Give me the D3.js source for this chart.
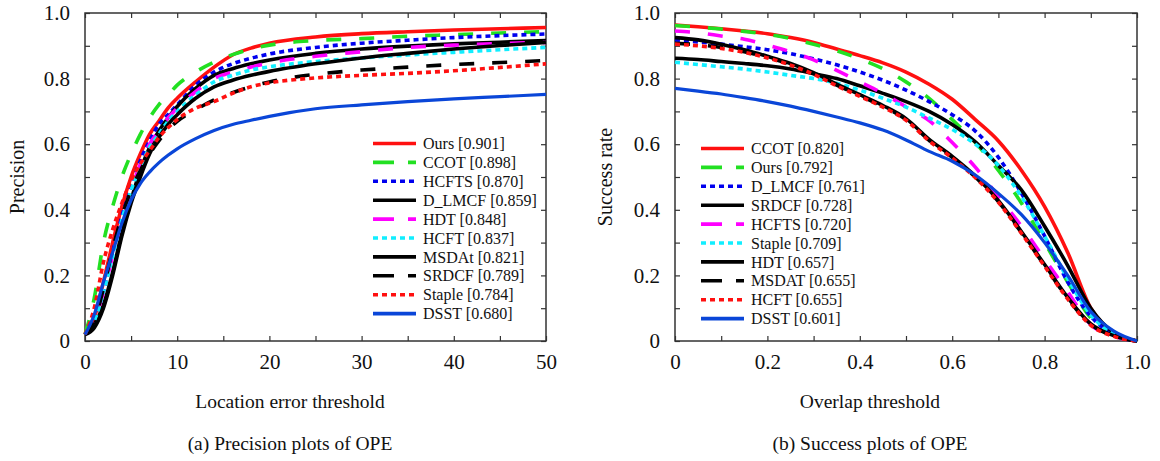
<!DOCTYPE html>
<html>
<head>
<meta charset="utf-8">
<script src="https://cdn.jsdelivr.net/npm/d3@7"></script>
<style>
  body { margin: 0; background: #fff; }
</style>
</head>
<body>
<svg id="chart" width="1160" height="461"></svg>
<script>
// ---- data ----
var precX = [0,1,2,3,4,5,6,7,8,9,10,12,14,16,18,20,25,30,35,40,45,50];
var precNames = ["Ours [0.901]","CCOT [0.898]","HCFTS [0.870]","D_LMCF [0.859]","HDT [0.848]",
                 "HCFT [0.837]","MSDAt [0.821]","SRDCF [0.789]","Staple [0.784]","DSST [0.680]"];
var precOurs   = [0.02,0.07,0.18,0.30,0.41,0.50,0.57,0.63,0.67,0.71,0.74,0.79,0.835,0.872,0.893,0.908,0.927,0.937,0.943,0.948,0.952,0.956];
var precCCOT   = [0.02,0.13,0.30,0.41,0.50,0.57,0.63,0.68,0.72,0.75,0.78,0.82,0.85,0.873,0.89,0.902,0.916,0.922,0.929,0.934,0.939,0.943];
var precHCFTS  = [0.02,0.06,0.15,0.27,0.38,0.47,0.55,0.61,0.66,0.69,0.72,0.78,0.82,0.845,0.862,0.875,0.895,0.908,0.917,0.925,0.931,0.936];
var precDLMCF  = [0.02,0.05,0.11,0.21,0.33,0.43,0.52,0.59,0.64,0.68,0.715,0.77,0.81,0.83,0.845,0.857,0.877,0.89,0.899,0.906,0.911,0.916];
var precHDT    = [0.02,0.06,0.15,0.26,0.37,0.46,0.54,0.60,0.64,0.68,0.71,0.76,0.80,0.82,0.835,0.848,0.868,0.882,0.895,0.902,0.907,0.91];
var precHCFT   = [0.02,0.06,0.15,0.26,0.37,0.46,0.53,0.59,0.63,0.67,0.70,0.75,0.79,0.81,0.826,0.836,0.852,0.863,0.872,0.88,0.888,0.895];
var precMSDAt  = [0.02,0.04,0.10,0.20,0.32,0.42,0.50,0.57,0.62,0.66,0.69,0.74,0.775,0.795,0.81,0.822,0.845,0.863,0.877,0.89,0.901,0.91];
var precSRDCF  = [0.02,0.06,0.16,0.28,0.38,0.46,0.52,0.57,0.61,0.645,0.67,0.705,0.735,0.757,0.775,0.79,0.813,0.826,0.835,0.843,0.849,0.855];
var precStaple = [0.02,0.10,0.24,0.34,0.42,0.49,0.54,0.58,0.62,0.65,0.675,0.71,0.73,0.755,0.775,0.787,0.802,0.81,0.816,0.824,0.834,0.845];
var precDSST   = [0.02,0.08,0.18,0.27,0.36,0.43,0.48,0.515,0.543,0.566,0.586,0.617,0.642,0.66,0.673,0.685,0.708,0.72,0.73,0.738,0.745,0.752];

var succX = [0,0.05,0.1,0.15,0.2,0.25,0.3,0.35,0.4,0.45,0.5,0.55,0.6,0.65,0.7,0.75,0.8,0.85,0.9,0.95,1];
var succNames = ["CCOT [0.820]","Ours [0.792]","D_LMCF [0.761]","SRDCF [0.728]","HCFTS [0.720]",
                 "Staple [0.709]","HDT [0.657]","MSDAT [0.655]","HCFT [0.655]","DSST [0.601]"];
var succCCOT   = [0.963,0.958,0.952,0.945,0.937,0.925,0.91,0.89,0.87,0.848,0.82,0.783,0.737,0.675,0.61,0.52,0.41,0.27,0.10,0.025,0];
var succOurs   = [0.962,0.957,0.951,0.944,0.935,0.922,0.905,0.885,0.86,0.83,0.79,0.74,0.675,0.605,0.52,0.42,0.30,0.18,0.07,0.02,0];
var succDLMCF  = [0.918,0.912,0.905,0.897,0.888,0.876,0.86,0.842,0.82,0.795,0.765,0.73,0.69,0.64,0.56,0.45,0.32,0.18,0.075,0.02,0];
var succSRDCF  = [0.862,0.858,0.852,0.846,0.839,0.829,0.815,0.80,0.778,0.755,0.73,0.70,0.66,0.607,0.535,0.46,0.35,0.23,0.10,0.025,0];
var succHCFTS  = [0.945,0.94,0.93,0.92,0.902,0.882,0.857,0.825,0.79,0.755,0.714,0.672,0.605,0.53,0.44,0.35,0.25,0.15,0.05,0.015,0];
var succStaple = [0.85,0.843,0.836,0.829,0.82,0.81,0.80,0.786,0.765,0.74,0.713,0.68,0.645,0.60,0.535,0.44,0.32,0.19,0.08,0.02,0];
var succHDT    = [0.925,0.918,0.905,0.888,0.868,0.846,0.818,0.783,0.751,0.718,0.678,0.615,0.563,0.503,0.428,0.333,0.233,0.133,0.052,0.016,0];
var succMSDAT  = [0.908,0.903,0.895,0.882,0.865,0.843,0.815,0.78,0.748,0.715,0.675,0.612,0.56,0.50,0.425,0.33,0.23,0.13,0.05,0.015,0];
var succHCFT   = [0.905,0.9,0.892,0.88,0.863,0.841,0.813,0.778,0.746,0.713,0.673,0.61,0.558,0.498,0.423,0.328,0.228,0.128,0.048,0.014,0];
var succDSST   = [0.77,0.762,0.753,0.742,0.73,0.716,0.70,0.683,0.665,0.643,0.613,0.578,0.548,0.506,0.45,0.385,0.30,0.20,0.09,0.03,0];

var yTicks = [0,0.1,0.2,0.3,0.4,0.5,0.6,0.7,0.8,0.9,1];
var precTicks = [0,5,10,15,20,25,30,35,40,45,50];
var succTicks = [0,0.1,0.2,0.3,0.4,0.5,0.6,0.7,0.8,0.9,1];

// line styles by rank (same order in both legends)
var styles = [
  {color:"#ff1010", dash:null},
  {color:"#22e022", dash:"15,18"},
  {color:"#0000ee", dash:"5,4"},
  {color:"#000000", dash:null},
  {color:"#ff00ff", dash:"15,18"},
  {color:"#11eeff", dash:"5,4"},
  {color:"#000000", dash:null},
  {color:"#000000", dash:"15,18"},
  {color:"#ff1010", dash:"5,4"},
  {color:"#0a46d8", dash:null}
];

var FONT = "'Liberation Serif', 'Times New Roman', serif";
var svg = d3.select("#chart");

function fmtTenths(d){
  var k = Math.round(d*10);
  if (k % 2) return "";
  return d === 0 ? "0" : d3.format(".1f")(d);
}

function drawPlot(opt){
  var x = d3.scaleLinear().domain(opt.xDomain).range([opt.left, opt.right]);
  var y = d3.scaleLinear().domain([0,1]).range([341, 13]);
  var g = svg.append("g");

  // inward ticks on all four sides
  g.append("g").attr("transform","translate(" + opt.left + ",0)")
    .call(d3.axisLeft(y).tickValues(yTicks).tickSizeInner(-5).tickSizeOuter(0).tickPadding(15).tickFormat(fmtTenths));
  g.append("g").attr("transform","translate(" + opt.right + ",0)")
    .call(d3.axisRight(y).tickValues(yTicks).tickSizeInner(-5).tickSizeOuter(0).tickFormat(""));
  g.append("g").attr("transform","translate(0,341)")
    .call(d3.axisBottom(x).tickValues(opt.xTicks).tickSizeInner(-5).tickSizeOuter(0).tickPadding(13).tickFormat(opt.xFmt));
  g.append("g").attr("transform","translate(0,13)")
    .call(d3.axisTop(x).tickValues(opt.xTicks).tickSizeInner(-5).tickSizeOuter(0).tickFormat(""));
  g.selectAll(".domain").remove();
  g.selectAll(".tick line").attr("stroke","#333").attr("stroke-width",1.2);
  g.selectAll(".tick text").style("font-size","21px");

  g.append("rect")
    .attr("x", opt.left).attr("y", 13)
    .attr("width", opt.right - opt.left).attr("height", 328)
    .attr("fill","none").attr("stroke","#333").attr("stroke-width",1.5);

  var line = d3.line()
    .x(function(d){ return x(d[0]); })
    .y(function(d){ return y(d[1]); })
    .curve(d3.curveMonotoneX);

  for (var i = 0; i < opt.series.length; i++) {
    var pts = opt.xs.map(function(v, j){ return [v, opt.series[i][j]]; });
    g.append("path")
      .attr("d", line(pts))
      .attr("fill","none")
      .attr("stroke", styles[i].color)
      .attr("stroke-width", i == 9 ? 3.2 : 3.6)
      .attr("stroke-dasharray", styles[i].dash);
  }

  // legend, no box
  var leg = g.append("g");
  for (var k = 0; k < opt.names.length; k++) {
    var ly = opt.legY + k * 18.9;
    leg.append("line")
      .attr("x1", opt.legX).attr("x2", opt.legX + 43)
      .attr("y1", ly).attr("y2", ly)
      .attr("stroke", styles[k].color)
      .attr("stroke-width", 3.6)
      .attr("stroke-dasharray", styles[k].dash ? (styles[k].dash == "5,4" ? "5,4" : "21,14") : null);
    leg.append("text")
      .attr("x", opt.legX + 50).attr("y", ly)
      .attr("dy","0.35em")
      .style("font-size","16px")
      .text(opt.names[k]);
  }

  g.append("text").attr("x", opt.titleX).attr("y", 408)
    .attr("text-anchor","middle").style("font-size","19.5px").text(opt.xTitle);
  g.append("text").attr("x", opt.titleX).attr("y", 450)
    .attr("text-anchor","middle").style("font-size","19.5px").text(opt.caption);
  g.append("text")
    .attr("transform","translate(" + opt.yTitleX + ",177) rotate(-90)")
    .attr("text-anchor","middle").style("font-size","20px").text(opt.yTitle);
}

drawPlot({
  left: 85, right: 546, xDomain: [0,50], xTicks: precTicks, xs: precX,
  xFmt: function(d){ return d % 10 ? "" : d; },
  series: [precOurs,precCCOT,precHCFTS,precDLMCF,precHDT,precHCFT,precMSDAt,precSRDCF,precStaple,precDSST],
  names: precNames, legX: 373, legY: 143.5,
  titleX: 290, xTitle: "Location error threshold", caption: "(a) Precision plots of OPE",
  yTitleX: 24, yTitle: "Precision"
});

drawPlot({
  left: 675, right: 1137, xDomain: [0,1], xTicks: succTicks, xs: succX,
  xFmt: fmtTenths,
  series: [succCCOT,succOurs,succDLMCF,succSRDCF,succHCFTS,succStaple,succHDT,succMSDAT,succHCFT,succDSST],
  names: succNames, legX: 701, legY: 148.5,
  titleX: 870, xTitle: "Overlap threshold", caption: "(b) Success plots of OPE",
  yTitleX: 612, yTitle: "Success rate"
});

svg.selectAll("text").style("font-family", FONT).attr("fill", "#111");
</script>
</body>
</html>
